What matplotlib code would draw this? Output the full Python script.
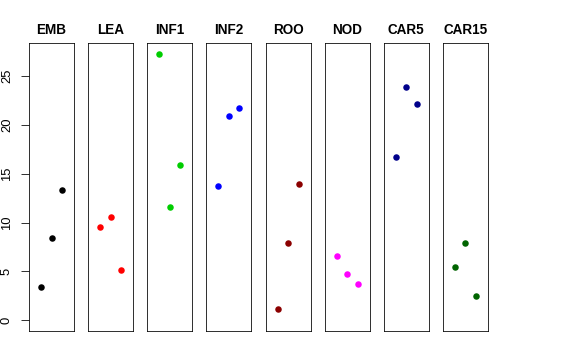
import numpy as np
import matplotlib
matplotlib.use("Agg")
import matplotlib.pyplot as plt

plt.rcParams['font.family'] = ['Liberation Sans', 'DejaVu Sans']

tissues = ["EMB", "LEA", "INF1", "INF2", "ROO", "NOD", "CAR5", "CAR15"]
colors = ["black", "red", "#00CD00", "blue", "#8B0000", "magenta", "#00008B", "#006400"]
reps = [1, 2, 3]
values = [
    [3.41, 8.43, 13.38],
    [9.59, 10.58, 5.15],
    [27.3, 11.58, 15.88],
    [13.79, 20.96, 21.72],
    [1.13, 7.89, 13.97],
    [6.59, 4.78, 3.75],
    [16.76, 23.87, 22.16],
    [5.46, 7.89, 2.52],
]
yticks = [0, 5, 10, 15, 20, 25]

fig, axes = plt.subplots(1, len(tissues), figsize=(8, 5), dpi=72, sharey=True)
fig.subplots_adjust(left=29/576, right=488/576, top=1-43/360, bottom=1-331/360,
                    wspace=14/45)

ymax = max(max(v) for v in values)
pad_y = 0.04 * ymax
for i, ax in enumerate(axes):
    ax.plot(reps, values[i], 'o', color=colors[i], markersize=6.5, markeredgewidth=0)
    ax.set_xlim(-0.16, 4.16)
    ax.set_ylim(-pad_y, ymax + pad_y)
    ax.set_title(tissues[i], fontsize=13.5, fontweight='bold', pad=9)
    ax.set_xticks([])
    for s in ax.spines.values():
        s.set_linewidth(0.8)
        s.set_color('black')
    if i == 0:
        ax.set_yticks(yticks)
        ax.set_yticklabels([str(t) for t in yticks], rotation=90, va='center', fontsize=13)
        ax.tick_params(axis='y', length=8, width=0.8, pad=8)
    else:
        ax.tick_params(axis='y', left=False, labelleft=False)

fig.savefig("out.png", dpi=72)
